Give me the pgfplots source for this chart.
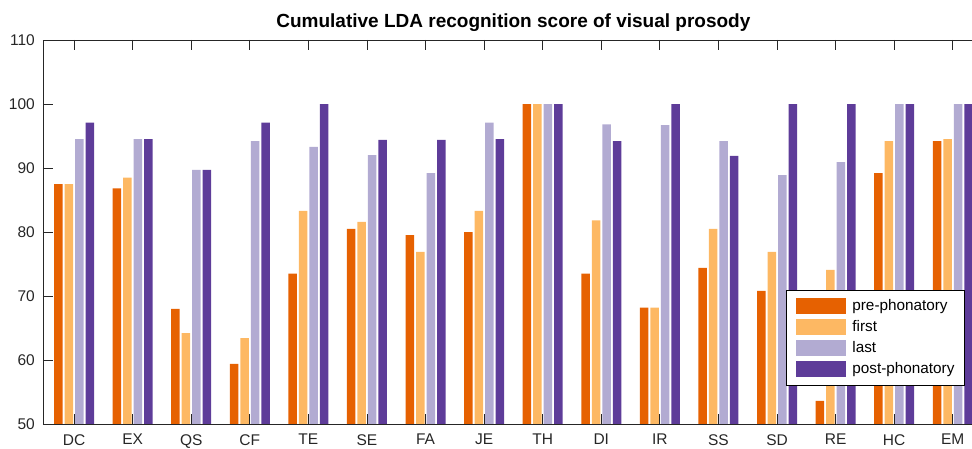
\documentclass[border=0pt]{standalone}
\usepackage{pgfplots}
\usepackage{pgfplotstable}
\usepackage{fontspec}
\setmainfont{Liberation Sans}
\pgfplotsset{compat=1.18}
\definecolor{cPre}{HTML}{E66101}
\definecolor{cFirst}{HTML}{FDB863}
\definecolor{cLast}{HTML}{B2ABD2}
\definecolor{cPost}{HTML}{5E3C99}
\definecolor{axgray}{HTML}{262626}
\pgfplotstableread{
x cat pre first last post
0 DC 87.5 87.5 94.5 97.1
1 EX 86.8 88.5 94.5 94.5
2 QS 68.0 64.2 89.7 89.7
3 CF 59.4 63.4 94.2 97.1
4 TE 73.5 83.3 93.3 100
5 SE 80.5 81.6 92.0 94.4
6 FA 79.5 76.9 89.2 94.4
7 JE 80.0 83.3 97.1 94.5
8 TH 100 100 100 100
9 DI 73.5 81.8 96.8 94.2
10 IR 68.2 68.2 96.7 100
11 SS 74.4 80.5 94.2 91.9
12 SD 70.8 76.9 88.9 100
13 RE 53.6 74.1 90.9 100
14 HC 89.2 94.2 100 100
15 EM 94.2 94.5 100 100
}\datatable
\begin{document}
\begin{tikzpicture}
\begin{scope}
\clip (-43pt,-24pt) rectangle (929pt,424pt);
\begin{axis}[
  at={(0,0)}, anchor=south west,
  scale only axis,
  width=940.8pt, height=384pt,
  xmin=-0.53, xmax=15.53,
  ymin=50, ymax=110,
  ytick={50,60,...,110},
  xtick={0,...,15},
  xticklabels={DC,EX,QS,CF,TE,SE,FA,JE,TH,DI,IR,SS,SD,RE,HC,EM},
  ybar=2pt, bar width=8.5pt,
  axis on top,
  axis line style={axgray, line width=0.8pt},
  tick style={axgray, line width=0.8pt},
  tick align=inside,
  major tick length=10pt,
  ticklabel style={font=\fontsize{15.5}{18}\selectfont, text=axgray},
  /pgf/number format/assume math mode=true,
  yticklabel style={inner sep=0pt, xshift=-8pt},
  xticklabel style={inner sep=0pt, yshift=-10pt},
  title={Cumulative LDA recognition score of visual prosody},
  title style={font=\fontsize{19}{22}\selectfont\bfseries, text=black, inner sep=0pt, anchor=base, yshift=6.7pt},
  legend style={at={(0.7898,0.349)}, anchor=north west, draw=black, fill=white,
    line width=0.7pt, inner xsep=10pt, inner ysep=8pt,
    nodes={inner sep=0pt, font=\fontsize{15.3}{18}\selectfont, text=black},
    row sep=5.4pt, column sep=6pt},
  legend cell align=left,
  legend image code/.code={\fill[#1] (0pt,-7.8pt) rectangle (50pt,7.8pt);},
]
\addplot[fill=cPre, draw=none] table[x=x, y=pre] {\datatable};
\addplot[fill=cFirst, draw=none] table[x=x, y=first] {\datatable};
\addplot[fill=cLast, draw=none] table[x=x, y=last] {\datatable};
\addplot[fill=cPost, draw=none] table[x=x, y=post] {\datatable};
\legend{pre-phonatory, first, last, post-phonatory}
\end{axis}
\end{scope}
\pgfresetboundingbox
\useasboundingbox (-43pt,-24pt) rectangle (929pt,424pt);
\end{tikzpicture}
\end{document}
